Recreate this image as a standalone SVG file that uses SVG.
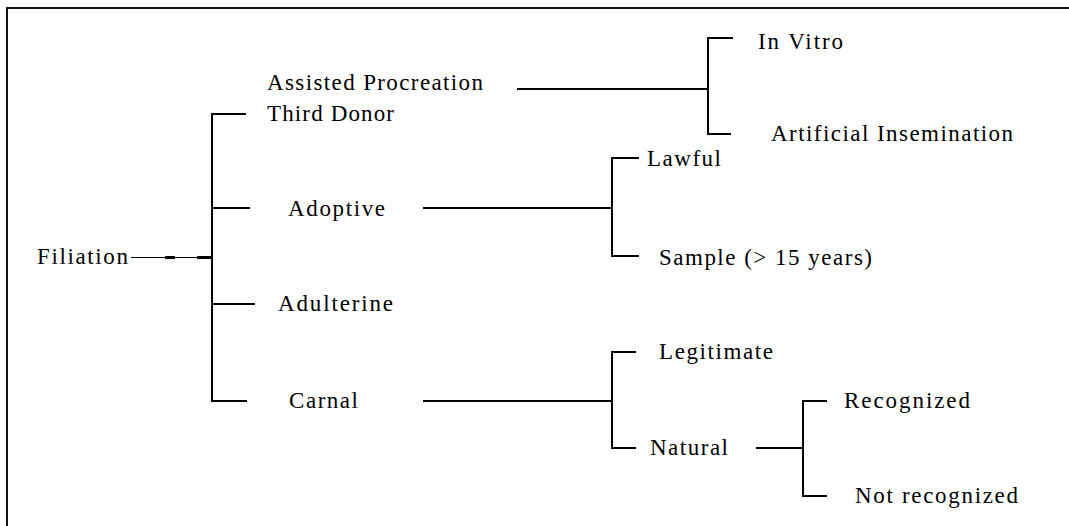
<svg xmlns="http://www.w3.org/2000/svg" width="1069" height="526" viewBox="0 0 1069 526">
<style>
  text { font-family: "Liberation Serif", "Times New Roman", serif; font-size: 23px; fill: #000; }
  .ln { stroke: #000; stroke-width: 2; fill: none; shape-rendering: crispEdges; }
  .frame { stroke: #111; stroke-width: 2; fill: none; shape-rendering: crispEdges; }
</style>
<rect width="1069" height="526" fill="#fff"/>
<rect class="frame" x="7" y="8" width="1100" height="600"/>

<g id="connectors">
  <!-- Filiation to main bracket -->
  <line class="ln" x1="131" y1="257" x2="212" y2="257" style="stroke-width:1"/>
  <rect x="165" y="256" width="10" height="3" fill="#000"/>
  <rect x="197" y="256" width="15" height="3" fill="#000"/>
  <!-- main bracket -->
  <path class="ln" d="M246 114 H212 V401 H247"/>
  <line class="ln" x1="212" y1="208" x2="250" y2="208"/>
  <line class="ln" x1="212" y1="304" x2="255" y2="304"/>
  <!-- Assisted Procreation branch -->
  <line class="ln" x1="517" y1="89" x2="708" y2="89"/>
  <path class="ln" d="M733 38 H708 V134 H731"/>
  <!-- Adoptive branch -->
  <line class="ln" x1="423" y1="208" x2="612" y2="208"/>
  <path class="ln" d="M639 158 H612 V256 H639"/>
  <!-- Carnal branch -->
  <line class="ln" x1="423" y1="401" x2="612" y2="401"/>
  <path class="ln" d="M636 352 H612 V448 H636"/>
  <!-- Natural branch -->
  <line class="ln" x1="756" y1="448" x2="803" y2="448"/>
  <path class="ln" d="M827 401 H803 V496 H827"/>
</g>

<g id="filiation"><text x="37" y="264" textLength="91">Filiation</text></g>
<g id="assisted-procreation"><text x="267" y="90" textLength="216">Assisted Procreation</text></g>
<g id="third-donor"><text x="267" y="121" textLength="127">Third Donor</text></g>
<g id="adoptive"><text x="288" y="216" textLength="97">Adoptive</text></g>
<g id="adulterine"><text x="278" y="311" textLength="115">Adulterine</text></g>
<g id="carnal"><text x="289" y="408" textLength="69">Carnal</text></g>
<g id="in-vitro"><text x="758" y="49" textLength="85">In Vitro</text></g>
<g id="artificial-insemination"><text x="771" y="141" textLength="242">Artificial Insemination</text></g>
<g id="lawful"><text x="647" y="166" textLength="74">Lawful</text></g>
<g id="sample"><text x="659" y="265" textLength="213">Sample (&gt; 15 years)</text></g>
<g id="legitimate"><text x="659" y="359" textLength="114">Legitimate</text></g>
<g id="natural"><text x="650" y="455" textLength="78">Natural</text></g>
<g id="recognized"><text x="844" y="408" textLength="126">Recognized</text></g>
<g id="not-recognized"><text x="855" y="503" textLength="163">Not recognized</text></g>
</svg>
